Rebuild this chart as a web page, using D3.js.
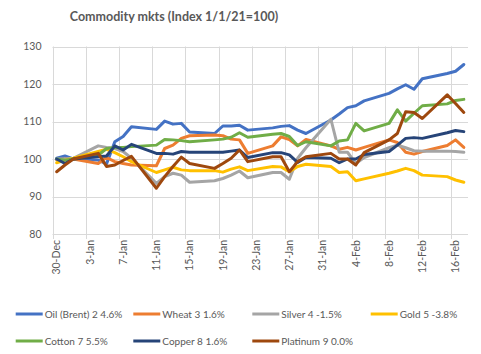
<!DOCTYPE html>
<html><head><meta charset="utf-8">
<script src="https://cdn.jsdelivr.net/npm/d3@7"></script>
<style>
html,body{margin:0;padding:0;background:#fff;}
svg{display:block;font-family:Lato,"Open Sans",sans-serif;}
</style></head>
<body>
<svg id="c" width="481" height="354"></svg>
<script>
const title = "Commodity mkts (Index 1/1/21=100)";
const dates = ["2020-12-30","2020-12-31","2021-01-01","2021-01-04","2021-01-05","2021-01-06","2021-01-07","2021-01-08",
"2021-01-11","2021-01-12","2021-01-13","2021-01-14","2021-01-15","2021-01-18","2021-01-19","2021-01-20","2021-01-21","2021-01-22",
"2021-01-25","2021-01-26","2021-01-27","2021-01-28","2021-01-29","2021-02-01","2021-02-02","2021-02-03","2021-02-04","2021-02-05",
"2021-02-08","2021-02-09","2021-02-10","2021-02-11","2021-02-12","2021-02-15","2021-02-16","2021-02-17"];
const seriesNames = ["Oil (Brent) 2 4.6%","Wheat 3 1.6%","Silver 4 -1.5%","Gold 5 -3.8%","Cotton 7 5.5%","Copper 8 1.6%","Platinum 9 0.0%"];
const oil = [100.2,100.8,100.0,99.7,98.7,104.6,106.0,108.6,107.9,110.1,109.3,109.5,107.2,106.8,108.8,108.8,109.0,107.7,108.3,108.7,108.9,107.7,106.8,110.4,112.0,113.7,114.2,115.5,117.5,118.7,119.8,118.6,121.4,122.8,123.4,125.2];
const wheat = [99.8,100.0,100.0,98.8,100.4,99.3,98.8,98.4,98.2,102.8,103.7,105.5,106.2,106.4,106.2,105.3,105.1,101.5,103.5,105.9,105.2,103.5,105.2,103.5,102.6,103.1,102.4,103.1,105.1,104.4,101.8,101.3,102.0,103.6,105.1,103.1];
const silver = [100.0,100.0,100.2,103.5,103.1,102.8,102.0,100.2,93.5,95.3,96.2,95.7,93.8,94.2,94.8,95.7,96.8,95.0,96.4,96.4,94.6,100.2,103.0,110.6,101.8,101.8,98.8,100.4,103.0,103.7,103.0,102.2,102.1,102.1,102.0,101.8];
const gold = [99.0,99.7,100.2,102.0,102.6,101.7,100.6,99.3,96.4,97.1,97.8,97.1,96.9,96.9,96.5,97.3,97.9,96.9,98.0,97.9,96.6,98.0,98.6,98.0,96.4,96.6,94.2,94.7,96.2,96.8,97.5,96.9,95.7,95.3,94.4,93.8];
const cotton = [100.0,99.7,100.0,101.0,102.8,103.1,103.1,103.3,103.7,105.2,105.1,104.9,104.6,105.1,105.3,105.8,107.0,105.8,106.6,106.8,106.0,103.6,104.6,103.5,104.8,105.1,109.5,107.5,109.5,113.1,110.1,112.2,114.2,114.7,115.6,115.9];
const copper = [100.0,98.8,100.0,100.6,100.8,103.5,102.4,103.9,101.5,101.5,101.3,102.0,101.8,101.8,101.8,102.1,102.4,100.4,101.7,101.7,101.1,99.1,100.4,100.2,99.0,100.0,100.0,101.2,102.0,103.7,105.5,105.7,105.5,107.0,107.6,107.3];
const platinum = [96.6,98.4,100.0,101.5,98.0,98.4,99.6,100.7,92.2,95.3,98.0,100.5,98.8,97.5,98.8,100.2,102.4,99.3,100.6,100.6,96.6,99.3,100.6,101.5,100.0,100.0,98.4,101.7,105.1,106.8,112.6,112.4,110.8,117.1,114.8,112.4];
const yTicks = [80,90,100,110,120,130];
const colors = ["#4472C4","#ED7D31","#A5A5A5","#FFC000","#70AD47","#264478","#9E480E"];

const values = [oil,wheat,silver,gold,cotton,copper,platinum];
const parse = d3.timeParse("%Y-%m-%d");
const dts = dates.map(parse);
const start = parse("2020-12-30"), end = parse("2021-02-18");

const svg = d3.select("#c");
const L = 52.5, R = 468, T = 46.5, B = 234;
const x = d3.scaleTime().domain([start,end]).range([L,R]);
const y = d3.scaleLinear().domain([80,130]).range([B,T]);
const grid = "#d9d9d9", txt = "#595959";

svg.append("rect").attr("width",481).attr("height",354).attr("fill","#fff");

// title
svg.append("text").attr("x",174).attr("y",20.5).attr("text-anchor","middle")
  .attr("font-size",12.5).attr("font-weight","bold").attr("fill",txt).text(title);

// horizontal gridlines
svg.append("g").selectAll("line").data(yTicks).join("line")
  .attr("x1",L).attr("x2",R).attr("y1",d=>Math.round(y(d))+0.5).attr("y2",d=>Math.round(y(d))+0.5)
  .attr("stroke",grid).attr("stroke-width",1);

// vertical gridlines / ticks every 4 days
const allDays = d3.timeDay.range(start,end);
const tickDays = allDays.filter((d,i)=>i%4===0);
svg.append("g").selectAll("line").data(tickDays).join("line")
  .attr("x1",d=>Math.round(x(d))+0.5).attr("x2",d=>Math.round(x(d))+0.5)
  .attr("y1",T).attr("y2",B+5).attr("stroke",grid).attr("stroke-width",1);

// y axis labels
const yAxis = d3.axisLeft(y).tickValues(yTicks).tickSize(0).tickPadding(0);
const gy = svg.append("g").attr("transform",`translate(${L-11},0)`).call(yAxis);
gy.select(".domain").remove();
gy.selectAll("text").attr("fill",txt).attr("font-size",10.5).attr("font-family","Lato,'Open Sans',sans-serif");

// x labels (centered on day)
const fmt = d3.timeFormat("%-d-%b");
svg.append("g").selectAll("text").data(tickDays).join("text")
  .attr("transform",d=>`translate(${x(d3.timeHour.offset(d,12))},240) rotate(-90)`)
  .attr("text-anchor","end").attr("dy","0.35em")
  .attr("font-size",10.5).attr("fill",txt).text(d=>fmt(d));

// lines
const line = d3.line().x((d,i)=>x(d3.timeHour.offset(dts[i],12))).y(d=>y(d));
svg.append("g").selectAll("path").data(values).join("path")
  .attr("d",d=>line(d)).attr("fill","none").attr("stroke",(d,i)=>colors[i])
  .attr("stroke-width",3).attr("stroke-linejoin","round").attr("stroke-linecap","round");

// legend
const legPos = [[15.7,314],[133.3,314],[252.3,314],[370.7,314],[15.7,341],[133.3,341],[252.3,341]];
const lg = svg.append("g").selectAll("g").data(seriesNames).join("g")
  .attr("transform",(d,i)=>`translate(${legPos[i][0]},${legPos[i][1]})`);
lg.append("line").attr("x1",0).attr("x2",27).attr("y1",0).attr("y2",0)
  .attr("stroke",(d,i)=>colors[i]).attr("stroke-width",3);
lg.append("text").attr("x",29).attr("dy","0.35em").attr("font-size",10).attr("fill",txt).text(d=>d);
</script>
</body></html>
